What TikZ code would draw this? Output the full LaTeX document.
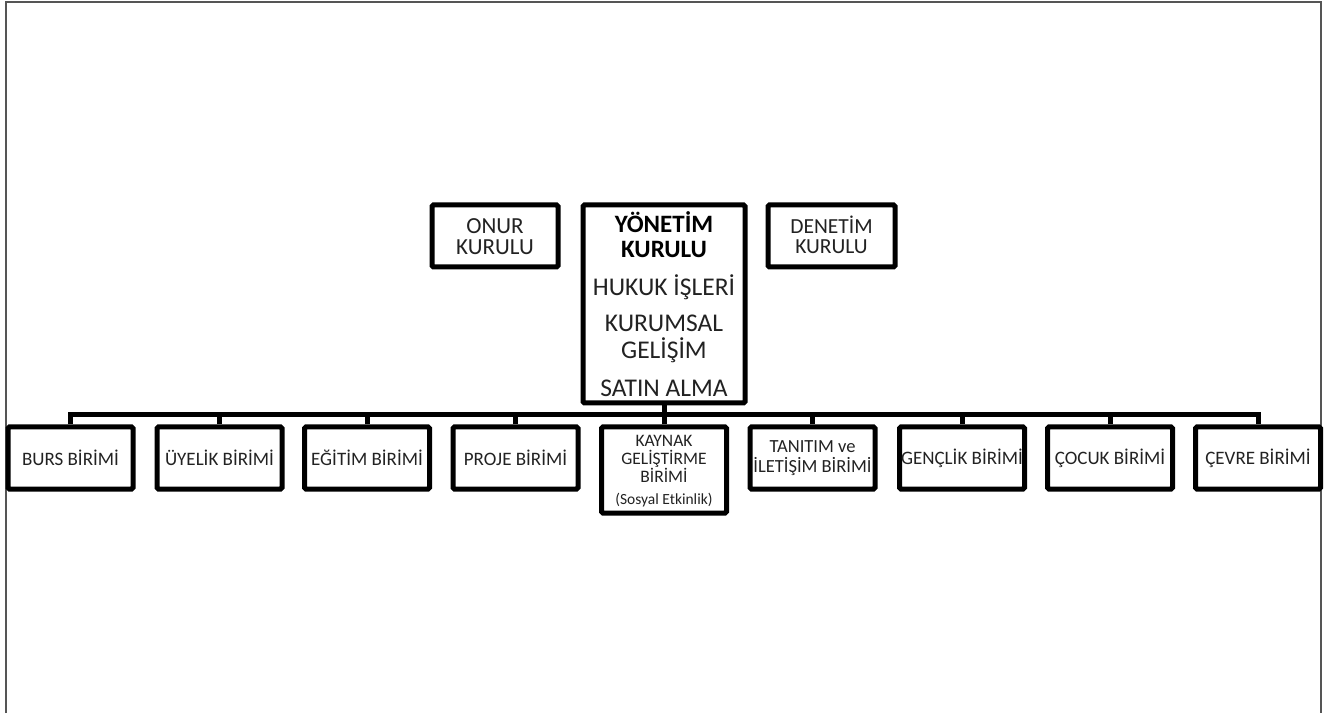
\documentclass[tikz,border=0pt]{standalone}
\usepackage{fontspec}
\setmainfont{Carlito}
\definecolor{txt}{HTML}{222222}
\definecolor{frm}{HTML}{555555}
\tikzset{
  x=1pt,y=1pt,
  box/.style={draw=black,line width=5pt,rounded corners=1.5pt,fill=white,inner sep=0pt},
  unitbox/.style={box,minimum width=125pt,minimum height=62pt},
  lbl/.style={inner sep=0pt,text=txt,align=center},
  conn/.style={draw=black,line width=5pt,line join=miter},
}
\begin{document}
\begin{tikzpicture}
\useasboundingbox (0,0) rectangle (1336,713);
% frame
\draw[frm,line width=2pt] (6,0) -- (6,711) -- (1321,711) -- (1321,0);
% top boxes
\node[box,minimum width=126pt,minimum height=62pt] (onur) at (495,477) {};
\node[lbl,font=\fontsize{23}{21}\selectfont] (onurt) at (495,476) {ONUR\\KURULU};
\node[box,minimum width=162pt,minimum height=198pt] (yk) at (664,409) {};
\node[lbl,font=\bfseries\fontsize{25}{25}\selectfont,text=black] (ykt) at (664,478) {YÖNETİM\\KURULU};
\node[lbl,font=\fontsize{25.5}{26}\selectfont] (huk) at (664,426) {HUKUK İŞLERİ};
\node[lbl,font=\fontsize{25.5}{27}\selectfont] (kur) at (664,374) {KURUMSAL\\GELİŞİM};
\node[lbl,font=\fontsize{25.5}{26}\selectfont] (sat) at (664,325) {SATIN ALMA};
\node[box,minimum width=127pt,minimum height=62pt] (den) at (831.5,477) {};
\node[lbl,font=\fontsize{21.5}{20}\selectfont] (dent) at (831.5,478) {DENETİM\\KURULU};
% bottom boxes
\def\bfs{\fontsize{19}{20}\selectfont}
\node[unitbox,font=\bfs,text=txt] (burs) at (70.5,255) {BURS BİRİMİ};
\node[unitbox,font=\bfs,text=txt] (uye) at (219.5,255) {ÜYELİK BİRİMİ};
\node[unitbox,font=\bfs,text=txt] (egi) at (367,255) {EĞİTİM BİRİMİ};
\node[unitbox,font=\bfs,text=txt] (pro) at (515.5,255) {PROJE BİRİMİ};
\node[box,minimum width=125pt,minimum height=86pt] (kay) at (664,243) {};
\node[lbl,font=\fontsize{17.5}{18}\selectfont] (kayt) at (664,254) {KAYNAK\\GELİŞTİRME\\BİRİMİ};
\node[lbl,font=\fontsize{15.5}{16}\selectfont] (kays) at (664,213) {(Sosyal Etkinlik)};
\node[unitbox,font=\fontsize{18.5}{20}\selectfont,text=txt,align=center] (tan) at (812.5,255) {TANITIM ve\\İLETİŞİM BİRİMİ};
\node[unitbox,font=\bfs,text=txt] (gen) at (962,255) {GENÇLİK BİRİMİ};
\node[unitbox,font=\bfs,text=txt] (coc) at (1110,255) {ÇOCUK BİRİMİ};
\node[unitbox,font=\bfs,text=txt] (cev) at (1258,255) {ÇEVRE BİRİMİ};
% connectors
\coordinate (bus) at (664,298);
\draw[conn] (yk.south) -- (bus);
\draw[conn] (burs.north) |- (bus) -| (cev.north);
\foreach \n in {uye,egi,pro,kay,tan,gen,coc}{
  \draw[conn] (\n.north) -- (\n.north |- bus);
}
\end{tikzpicture}
\end{document}
